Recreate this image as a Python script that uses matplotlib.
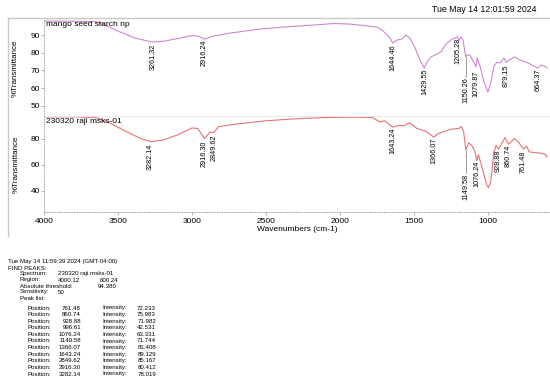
import matplotlib
matplotlib.use("Agg")
import matplotlib.pyplot as plt
from matplotlib.ticker import MultipleLocator

plt.rcParams['font.family'] = ['Liberation Sans', 'DejaVu Sans']

W, H = 550, 386

# mango seed starch np (upper trace)
mango_wn = [4000, 3800, 3650, 3588, 3486, 3385, 3284, 3261, 3182, 3081, 3000, 2959, 2916,
            2865, 2743, 2540, 2338, 2135, 2047, 1932, 1750, 1709, 1662, 1644, 1615, 1581,
            1554, 1527, 1493, 1459, 1430, 1412, 1385, 1345, 1318, 1284, 1243, 1205, 1196,
            1182, 1169, 1150, 1142, 1122, 1080, 1074, 1054, 1027, 1000, 980, 959, 939, 919,
            892, 879, 865, 824, 784, 743, 716, 664, 640, 620, 600]
mango_t = [97.9, 97.8, 97.5, 95.6, 91.7, 88.3, 86.3, 86.0, 86.6, 88.3, 89.7, 89.4, 87.7,
           89.2, 91.1, 93.4, 94.8, 95.9, 96.5, 96.2, 94.5, 92.3, 88.3, 85.5, 87.2, 87.7,
           90.0, 88.3, 82.7, 75.9, 71.3, 74.7, 77.6, 79.3, 80.4, 84.9, 87.7, 89.0, 87.2,
           88.9, 87.2, 77.6, 78.7, 78.7, 72.0, 77.0, 72.5, 63.4, 57.8, 63.4, 72.5, 74.7, 74.2,
           77.0, 74.5, 75.3, 77.6, 75.9, 74.7, 73.6, 71.4, 73.0, 72.5, 71.5]

# 230320 raji msks-01 (lower trace)
raji_wn = [4000, 3800, 3650, 3550, 3450, 3350, 3282, 3200, 3100, 3000, 2960, 2916, 2880,
           2850, 2820, 2700, 2500, 2300, 2100, 1900, 1780, 1730, 1700, 1643, 1600, 1570,
           1530, 1480, 1420, 1366, 1340, 1300, 1250, 1200, 1180, 1165, 1150, 1130, 1110,
           1090, 1076, 1065, 1040, 1010, 997, 980, 960, 945, 929, 900, 885, 861, 820, 790,
           761, 740, 720, 680, 640, 610, 600]
raji_t = [97.0, 97.0, 96.5, 92.0, 86.0, 80.5, 78.0, 79.0, 83.0, 88.5, 88.0, 80.4, 85.0,
          85.2, 89.5, 91.5, 94.0, 95.5, 96.5, 96.8, 96.5, 93.0, 94.0, 89.1, 90.5, 90.0,
          92.5, 88.0, 86.0, 81.4, 84.0, 85.5, 87.5, 88.0, 89.5, 86.0, 71.7, 77.0, 75.0,
          71.0, 63.3, 68.0, 58.0, 45.0, 42.5, 48.0, 70.0, 75.0, 72.0, 78.0, 81.0, 76.0, 80.5, 77.0,
          72.2, 74.5, 70.0, 69.5, 69.0, 68.0, 66.0]

# peak labels: position, label top value, curve value (for leader lines)
mango_peaks = ['3261.32', '2916.24', '1644.46', '1429.55', '1205.28', '1150.26', '1079.87', '879.15', '664.37']
mango_label_y = [85.3, 87.3, 85.0, 71.0, 88.5, 66.0, 70.0, 73.0, 71.0]
mango_curve_y = [86.0, 87.7, 85.5, 71.3, 89.0, 77.6, 72.0, 74.5, 71.4]

raji_peaks = ['3282.14', '2916.30', '2849.62', '1643.24', '1366.07', '1149.58', '1076.24', '928.88', '860.74', '761.48']
raji_label_y = [76.5, 78.5, 83.5, 89.0, 80.8, 53.5, 63.0, 72.0, 76.0, 71.5]
raji_curve_y = [78.0, 80.4, 85.2, 89.1, 81.4, 71.7, 63.3, 72.0, 76.0, 72.2]

peak_table_pos = ['761.48', '860.74', '928.88', '996.61', '1076.24', '1149.58', '1366.07',
                  '1643.24', '2849.62', '2916.30', '3282.14']
peak_table_int = ['72.233', '75.983', '71.982', '42.531', '63.331', '71.744', '81.408',
                  '89.129', '85.167', '80.412', '78.019']


def fx(px):
    return px / W


def fy(py):
    return 1 - py / H


fig = plt.figure(figsize=(5.5, 3.86), dpi=100)

# outer frame lines
fig.add_artist(plt.Line2D([fx(8), fx(550)], [fy(18), fy(18)], color='#c8c8c8', lw=1))
fig.add_artist(plt.Line2D([fx(8), fx(8)], [fy(18), fy(236)], color='#c8c8c8', lw=1))

fig.text(fx(537), fy(10), 'Tue May 14 12:01:59 2024', ha='right', va='center', fontsize=6.3)

ax1 = fig.add_axes([fx(44), fy(116), fx(506), 96 / H])
ax2 = fig.add_axes([fx(44), fy(212), fx(506), 95 / H])

ax1.plot(mango_wn, mango_t, color='#cc88cc', lw=0.8)
ax2.plot(raji_wn, raji_t, color='#e87272', lw=0.8)

ax1.set_ylim(44.2, 98.5)
ax2.set_ylim(23.8, 96.9)
for ax in (ax1, ax2):
    ax.set_xlim(4000, 581)
    for s in ('top', 'right'):
        ax.spines[s].set_visible(False)
    ax.spines['left'].set_linestyle((0, (1, 2)))
    ax.spines['left'].set_color('#999999')
    ax.spines['left'].set_linewidth(0.6)
    ax.tick_params(axis='y', labelsize=6, length=2, width=0.5, color='#999999', pad=1)
    ax.set_ylabel('%Transmittance', fontsize=5.8, labelpad=8)

ax1.set_yticks([50, 60, 70, 80, 90])
ax2.set_yticks([40, 60, 80])
ax1.spines['bottom'].set_color('#e4e4e4')
ax1.spines['bottom'].set_linewidth(0.6)
ax1.set_xticks([])

ax2.spines['bottom'].set_linestyle((0, (1, 2)))
ax2.spines['bottom'].set_color('#999999')
ax2.spines['bottom'].set_linewidth(0.6)
ax2.xaxis.set_major_locator(MultipleLocator(500))
ax2.xaxis.set_minor_locator(MultipleLocator(100))
ax2.tick_params(axis='x', labelsize=6, length=2, width=0.5, color='#999999', pad=2)
ax2.tick_params(axis='x', which='minor', length=1, width=0.5, color='#bbbbbb')
ax2.set_xlabel('Wavenumbers (cm-1)', fontsize=6, labelpad=1)

ax1.text(0.003, 0.99, 'mango seed starch np', transform=ax1.transAxes, fontsize=6, va='top')
ax2.text(0.003, 0.99, '230320 raji msks-01', transform=ax2.transAxes, fontsize=6, va='top')


def label_peaks(ax, names, label_y, curve_y):
    for name, ly, cy in zip(names, label_y, curve_y):
        x = float(name)
        ax.text(x, ly, name, rotation=90, ha='center', va='top', fontsize=5.2)
        if cy - ly > 5:
            ax.plot([x, x], [cy, ly], color='#777777', lw=0.5)


label_peaks(ax1, mango_peaks, mango_label_y, mango_curve_y)
label_peaks(ax2, raji_peaks, raji_label_y, raji_curve_y)

# peak report block
fs = 4.4
fig.text(fx(8), fy(262), 'Tue May 14 11:59:39 2024 (GMT-04:00)', fontsize=fs, va='center')
fig.text(fx(8), fy(268), 'FIND PEAKS:', fontsize=fs, va='center')
fig.text(fx(20), fy(274), 'Spectrum:', fontsize=fs, va='center')
fig.text(fx(58), fy(274), '230320 raji msks-01', fontsize=fs, va='center')
fig.text(fx(20), fy(280), 'Region:', fontsize=fs, va='center')
fig.text(fx(58), fy(280), '4000.12', fontsize=fs, va='center')
fig.text(fx(100), fy(280), '600.24', fontsize=fs, va='center')
fig.text(fx(20), fy(286), 'Absolute threshold:', fontsize=fs, va='center')
fig.text(fx(98), fy(286), '94.380', fontsize=fs, va='center')
fig.text(fx(20), fy(292), 'Sensitivity:', fontsize=fs, va='center')
fig.text(fx(58), fy(292), '50', fontsize=fs, va='center')
fig.text(fx(20), fy(298), 'Peak list:', fontsize=fs, va='center')
for i, (p, v) in enumerate(zip(peak_table_pos, peak_table_int)):
    y = fy(308 + i * 6.6)
    fig.text(fx(28), y, 'Position:', fontsize=fs, va='center')
    fig.text(fx(81), y, p, fontsize=fs, va='center', ha='right')
    fig.text(fx(102), y, 'Intensity:', fontsize=fs, va='center')
    fig.text(fx(156), y, v, fontsize=fs, va='center', ha='right')

fig.savefig('out.png', dpi=100)
